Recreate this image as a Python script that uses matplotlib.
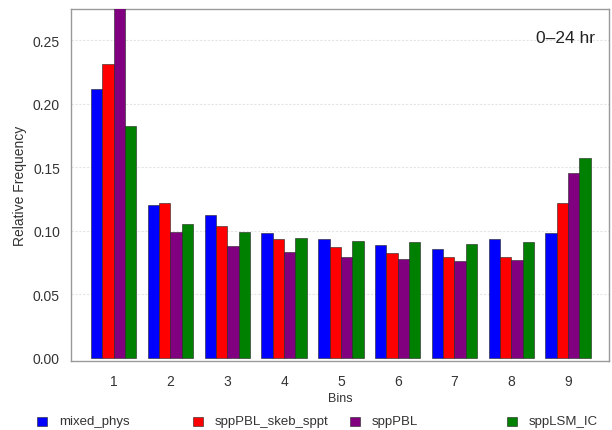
import matplotlib
matplotlib.use("Agg")
import matplotlib.pyplot as plt
import numpy as np

bins = ["1", "2", "3", "4", "5", "6", "7", "8", "9"]
series_names = ["mixed_phys", "sppPBL_skeb_sppt", "sppPBL", "sppLSM_IC"]
mixed_phys = [0.2116, 0.1201, 0.1122, 0.0980, 0.0933, 0.0891, 0.0860, 0.0936, 0.0980]
sppPBL_skeb_sppt = [0.2316, 0.1222, 0.1036, 0.0938, 0.0870, 0.0828, 0.0791, 0.0791, 0.1217]
sppPBL = [0.2900, 0.0991, 0.0878, 0.0831, 0.0791, 0.0778, 0.0765, 0.0773, 0.1457]
sppLSM_IC = [0.1822, 0.1057, 0.0988, 0.0944, 0.0917, 0.0909, 0.0896, 0.0909, 0.1577]
colors = ["#0000FF", "#FF0000", "#800080", "#008000"]
y_ticks = [0.00, 0.05, 0.10, 0.15, 0.20, 0.25]

plt.rcParams["font.family"] = ["Liberation Sans", "DejaVu Sans"]

fig = plt.figure(figsize=(6.12, 4.31), dpi=100)
ax = fig.add_axes([0.116, 0.160, 0.879, 0.817])

values = [mixed_phys, sppPBL_skeb_sppt, sppPBL, sppLSM_IC]
n_groups = len(bins)
group_step = 5  # four bars plus one bar-width gap
for j, (vals, col) in enumerate(zip(values, colors)):
    x = np.arange(n_groups) * group_step + j + 0.5
    ax.bar(x, vals, width=1.0, color=col, edgecolor="#222222", linewidth=0.4,
           zorder=3, clip_on=True)

centers = np.arange(n_groups) * group_step + 2.0
ax.set_xticks(centers)
ax.set_xticklabels(bins, fontsize=10, color="#333333")
ax.set_xlim(-1.76, 45.6)
ax.set_ylim(-0.0024, 0.2746)
ax.set_yticks(y_ticks)
ax.set_yticklabels([f"{t:.2f}" for t in y_ticks], fontsize=10, color="#333333")
ax.tick_params(axis="both", length=0, pad=8)
ax.tick_params(axis="x", pad=9)

for t in y_ticks[1:]:
    ax.axhline(t, color="#e4e4e4", linewidth=0.8, linestyle=(0, (2, 1.5)), zorder=1)

for s in ax.spines.values():
    s.set_color("#999999")
    s.set_linewidth(1.0)

ax.set_xlabel("Bins", fontsize=9, color="#333333", labelpad=3)
ax.set_ylabel("Relative Frequency", fontsize=10, color="#333333", labelpad=4)

ax.text(0.975, 0.92, "0\u201324 hr", transform=ax.transAxes, ha="right", va="center",
        fontsize=12.5, color="#222222")

# legend row beneath the axes
legend_x = [37, 193, 350, 507]
for name, col, lx in zip(series_names, colors, legend_x):
    fig.patches.append(plt.Rectangle((lx / 612, 1 - 427 / 431), 10 / 612, 9 / 431,
                                     transform=fig.transFigure, facecolor=col,
                                     edgecolor="#222222", linewidth=0.4))
    fig.text((lx + 22) / 612, 1 - 422 / 431, name, ha="left", va="center",
             fontsize=9.5, color="#333333")

fig.savefig("out.png", dpi=100)
